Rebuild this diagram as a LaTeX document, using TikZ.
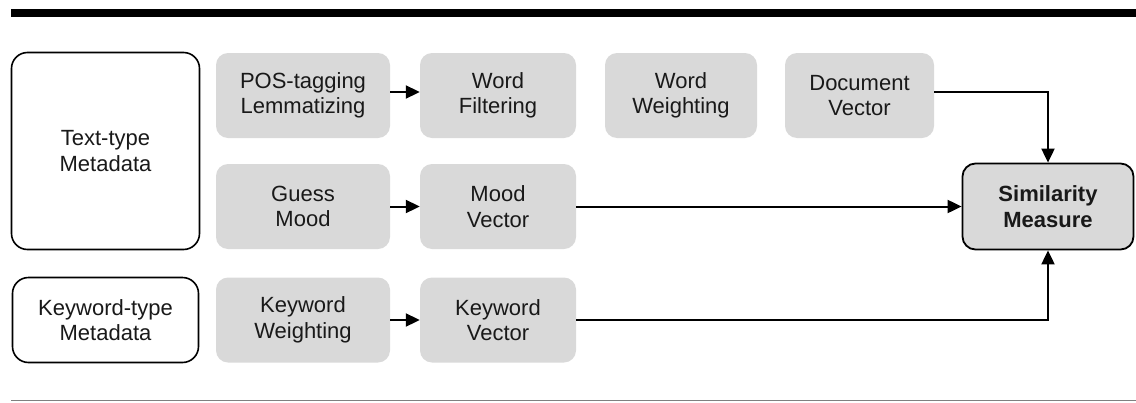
\documentclass[tikz,border=0pt]{standalone}
\usepackage{fontspec}
\setmainfont{Liberation Sans}
\usepackage{xcolor}
\usetikzlibrary{arrows.meta}

\definecolor{boxgray}{HTML}{D9D9D9}
\definecolor{rulegray}{HTML}{808080}

\tikzset{
    txt/.style={align=center, inner sep=0pt, text=black!90, font=\fontsize{22}{25.5}\selectfont},
    stage/.style={txt, fill=boxgray, rounded corners=12pt, minimum height=85pt},
    source/.style={txt, draw=black, line width=1.6pt, fill=white, rounded corners=16pt},
    measure/.style={txt, draw=black, line width=1.8pt, fill=boxgray, rounded corners=13pt,
        font=\fontsize{22}{25.5}\selectfont\bfseries},
    flow/.style={line width=2pt, -{Triangle[length=14pt,width=13pt]}}
}

\begin{document}
\begin{tikzpicture}[x=1pt, y=-1pt]
    \useasboundingbox (0,0) rectangle (1136,402);

    % Rules above and below
    \draw[line width=7.5pt] (11,13) -- (1136,13);
    \draw[rulegray, line width=1.5pt] (11,400.5) -- (1136,400.5);

    % Metadata sources
    \node[source, minimum width=188pt, minimum height=197pt] (textmeta) at (105.5,151) {Text-type\\Metadata};
    \node[source, minimum width=186pt, minimum height=85pt] (kwmeta) at (105.5,320) {Keyword-type\\Metadata};

    % Processing stages
    \foreach \nm/\cx/\cy/\bw/\top/\bot in {
        pos/303/95.5/174/POS-tagging/Lemmatizing,
        wfilter/498/95.5/156/Word/Filtering,
        wweight/681/95.5/152/Word/Weighting,
        docvec/859.5/95.5/149/Document/Vector,
        guess/303/206.5/174/Guess/Mood,
        moodvec/498/206.5/156/Mood/Vector,
        kwweight/303/320/174/Keyword/Weighting,
        kwvec/498/320/156/Keyword/Vector
    } {
        \node[stage, minimum width=\bw pt] (\nm) at (\cx,\cy) {\top\\\bot};
    }

    % Similarity
    \node[measure, minimum width=171pt, minimum height=86pt] (sim) at (1048,206.5) {Similarity\\Measure};

    % Connectors
    \draw[flow] ([yshift=3.5pt]pos.east) -- ([yshift=3.5pt]wfilter.west);
    \draw[flow] (guess) -- (moodvec);
    \draw[flow] (kwweight) -- (kwvec);
    \draw[flow] ([yshift=4pt]docvec.east) -| (sim.north);
    \draw[flow] (moodvec.east) -- (sim.west);
    \draw[flow] (kwvec.east) -| (sim.south);
\end{tikzpicture}
\end{document}
